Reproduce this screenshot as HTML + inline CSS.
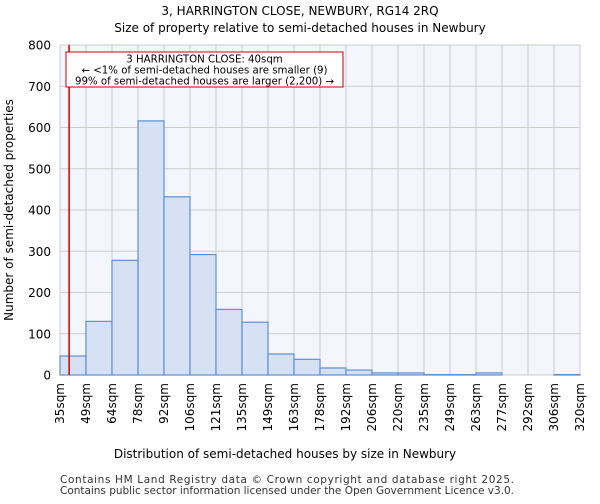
<!DOCTYPE html>
<html><head><meta charset="utf-8"><style>
body{margin:0;background:#fff;font-family:"DejaVu Sans","Liberation Sans",sans-serif}
</style></head><body>
<svg id="c" width="600" height="500" xmlns="http://www.w3.org/2000/svg" font-family="DejaVu Sans, Liberation Sans, sans-serif">
<text x="300" y="15" text-anchor="middle" font-size="12">3, HARRINGTON CLOSE, NEWBURY, RG14 2RQ</text>
<text x="300" y="32" text-anchor="middle" font-size="12">Size of property relative to semi-detached houses in Newbury</text>
<rect x="60" y="45" width="520" height="330" fill="#f3f6fd"/>
<g id="grid"></g><g id="bars"></g><g id="axes"></g>
<text x="285" y="458" text-anchor="middle" font-size="12">Distribution of semi-detached houses by size in Newbury</text>
<text transform="translate(13,210) rotate(-90)" text-anchor="middle" font-size="12">Number of semi-detached properties</text>
<text x="60" y="483" font-size="10.5" fill="#333" textLength="454">Contains HM Land Registry data © Crown copyright and database right 2025.</text>
<text x="60" y="494" font-size="10.5" fill="#333" textLength="454">Contains public sector information licensed under the Open Government Licence v3.0.</text>
</svg>
<script>
const categories=["35sqm","49sqm","64sqm","78sqm","92sqm","106sqm","121sqm","135sqm","149sqm","163sqm","178sqm","192sqm","206sqm","220sqm","235sqm","249sqm","263sqm","277sqm","292sqm","306sqm","320sqm"];
const counts=[46,130,278,616,432,292,159,128,51,38,17,12,5,5,1,1,5,0,0,1];
const yTicks=[0,100,200,300,400,500,600,700,800];
const markerValue=40;
const binStart=35, binStep=14.25;
const NS="http://www.w3.org/2000/svg";
const L=60,R=580,T=45,B=375,n=counts.length,bw=(R-L)/n;
const x=i=>L+i*bw;
const y=v=>B-v/800*(B-T);
const xv=v=>L+(v-binStart)/binStep*bw;
function mk(p,t,a){const e=document.createElementNS(NS,t);for(const k in a)e.setAttribute(k,a[k]);p.appendChild(e);return e;}
const g=document.getElementById('grid'),b=document.getElementById('bars'),ax=document.getElementById('axes');
yTicks.forEach(v=>{
 const l=mk(g,'line',{x1:L,x2:R,y1:y(v),y2:y(v),stroke:'#cccccc'});
 
 
 const t=mk(ax,'text',{x:L-9,y:y(v)+4.5,'text-anchor':'end','font-size':12});
 t.textContent=v;
 
 
});
categories.forEach((c,i)=>{
 const l=mk(g,'line',{x1:x(i),x2:x(i),y1:T,y2:B,stroke:'#cccccc'});
 
 
 const t=mk(ax,'text',{transform:`translate(${x(i)+4},${B+8}) rotate(-90)`,'text-anchor':'end','font-size':12});
 t.textContent=c;
 
 
});
counts.forEach((v,i)=>{
 const r=mk(b,'rect',{x:x(i),y:y(v),width:bw,height:B-y(v),fill:'#d6e1f3',stroke:'#5b8fd6','stroke-width':1.2});
 
 
});
const ml=mk(ax,'line',{x1:xv(markerValue),x2:xv(markerValue),y1:T,y2:B,stroke:'#cc0000','stroke-width':1.5});


const box=mk(ax,'rect',{x:66,y:52,width:277,height:35,fill:'#fff',stroke:'#cc0000','stroke-width':1});


["3 HARRINGTON CLOSE: 40sqm","← <1% of semi-detached houses are smaller (9)","99% of semi-detached houses are larger (2,200) →"].forEach((s,i)=>{
 const t=mk(ax,'text',{x:204.5,y:62.5+i*11,'text-anchor':'middle','font-size':10.2});
 t.textContent=s;
 
 
});
</script>
</body></html>
